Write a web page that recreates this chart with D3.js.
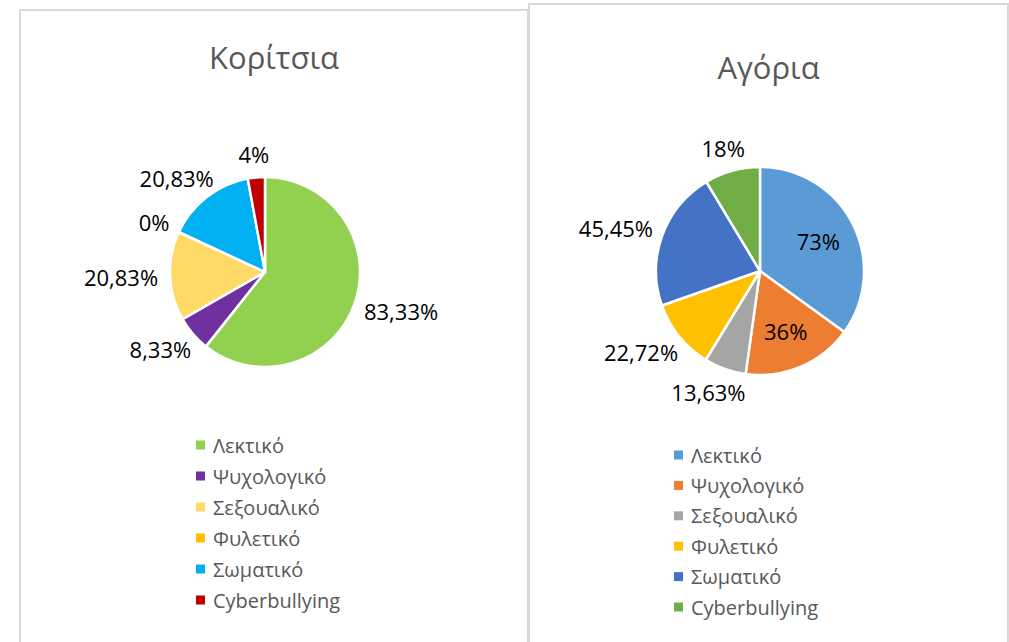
<!DOCTYPE html>
<html>
<head>
<meta charset="utf-8">
<script src="https://cdn.jsdelivr.net/npm/d3@7"></script>
<style>
  body { margin: 0; background: #fff; }
  text { font-family: "Open Sans", "Noto Sans", sans-serif; }
</style>
</head>
<body>
<div id="chart"></div>
<script>
const categories = ["Λεκτικό", "Ψυχολογικό", "Σεξουαλικό", "Φυλετικό", "Σωματικό", "Cyberbullying"];

const girlsValues = [83.33, 8.33, 20.83, 0, 20.83, 4];
const girlsLabels = ["83,33%", "8,33%", "20,83%", "0%", "20,83%", "4%"];
const girlsColors = ["#92D050", "#7030A0", "#FFD966", "#FFC000", "#00B0F0", "#C00000"];

const boysValues = [73, 36, 13.63, 22.72, 45.45, 18];
const boysLabels = ["73%", "36%", "13,63%", "22,72%", "45,45%", "18%"];
const boysColors = ["#5B9BD5", "#ED7D31", "#A5A5A5", "#FFC000", "#4472C4", "#70AD47"];
const boysInside = ["Λεκτικό", "Ψυχολογικό"];

const W = 1009, H = 642;

const svg = d3.select("#chart").append("svg")
    .attr("width", W)
    .attr("height", H);

// chart frames (the right one overlaps the left one)
const panels = [
  {title: "Κορίτσια", x: 20, y: 10, w: 508, titleY: 69, cx: 265, cy: 272, r: 95,
   values: girlsValues, labels: girlsLabels, colors: girlsColors, inside: [],
   legX: 196, legY: 445, legStep: 31},
  {title: "Αγόρια", x: 529, y: 4, w: 479, titleY: 79, cx: 760, cy: 271, r: 104,
   values: boysValues, labels: boysLabels, colors: boysColors, inside: boysInside,
   legX: 674, legY: 455, legStep: 30.4}
];

panels.forEach(p => {
  const g = svg.append("g");

  g.append("rect")
    .attr("x", p.x)
    .attr("y", p.y)
    .attr("width", p.w)
    .attr("height", H)
    .attr("fill", "#fff")
    .attr("stroke", "#d9d9d9")
    .attr("stroke-width", 2);

  g.append("text")
    .attr("x", p.x + p.w / 2)
    .attr("y", p.titleY)
    .attr("text-anchor", "middle")
    .attr("fill", "#595959")
    .style("font-size", "31px")
    .text(p.title);

  const data = categories.map((c, i) => ({cat: c, value: p.values[i], label: p.labels[i], color: p.colors[i]}));

  const pie = d3.pie().sort(null).value(d => d.value);
  const arc = d3.arc().innerRadius(0).outerRadius(p.r);
  const arcs = pie(data);

  const chart = g.append("g")
    .attr("transform", `translate(${p.cx}, ${p.cy})`);

  chart.selectAll("path")
    .data(arcs)
    .enter()
    .append("path")
    .attr("d", arc)
    .attr("fill", d => d.data.color)
    .attr("stroke", "#fff")
    .attr("stroke-width", 2.5)
    .attr("stroke-linejoin", "round");

  // data labels, outside ones pushed away from the pie by their box
  chart.selectAll(".lbl")
    .data(arcs)
    .enter()
    .append("text")
    .attr("class", "lbl")
    .style("font-size", "22px")
    .attr("fill", "#000")
    .attr("dominant-baseline", "central")
    .each(function(d) {
      const t = d3.select(this).text(d.data.label);
      const a = (d.startAngle + d.endAngle) / 2;
      const sx = Math.sin(a), sy = -Math.cos(a);
      if (p.inside.includes(d.data.cat)) {
        const rr = p.r * 0.63;
        t.attr("x", sx * rr).attr("y", sy * rr).attr("text-anchor", "middle");
      } else {
        const bb = this.getBBox();
        const rr = p.r + 12;
        const x = sx * rr + sx * bb.width / 2;
        const y = sy * rr + sy * 12;
        t.attr("x", x).attr("y", y).attr("text-anchor", "middle");
      }
    });

  // legend
  const leg = g.selectAll(".leg")
    .data(data)
    .enter()
    .append("g")
    .attr("transform", (d, i) => `translate(${p.legX}, ${p.legY + i * p.legStep})`);

  leg.append("rect")
    .attr("x", 0)
    .attr("y", -4.5)
    .attr("width", 9)
    .attr("height", 9)
    .attr("fill", d => d.color);

  leg.append("text")
    .attr("x", 17)
    .attr("y", 0)
    .attr("dominant-baseline", "central")
    .attr("fill", "#595959")
    .style("font-size", "20px")
    .text(d => d.cat);
});
</script>
</body>
</html>
